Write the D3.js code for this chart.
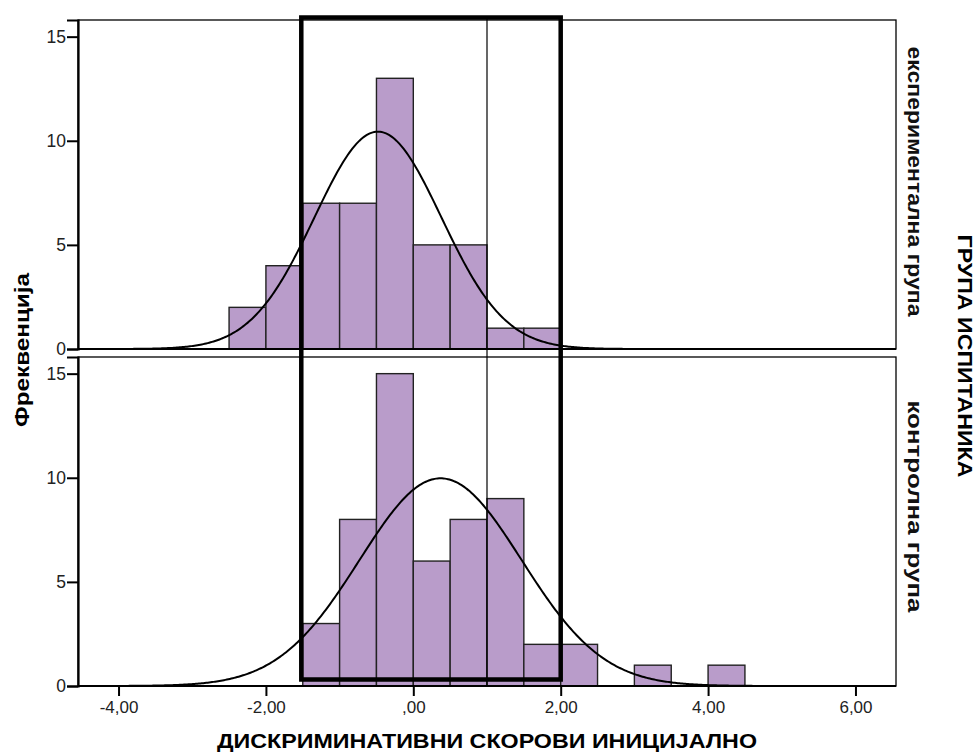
<!DOCTYPE html>
<html>
<head>
<meta charset="utf-8">
<script src="https://cdn.jsdelivr.net/npm/d3@7"></script>
<style>
  body { margin: 0; background: #fff; }
  text { font-family: "Liberation Sans", Arial, sans-serif; }
</style>
</head>
<body>
<div id="chart"></div>
<script>
'use strict';

// Data
const binStarts = [-2.5, -2.0, -1.5, -1.0, -0.5, 0.0, 0.5, 1.0, 1.5, 2.0, 2.5, 3.0, 3.5, 4.0];
const binWidth = 0.5;
const expCounts = [2, 4, 7, 7, 13, 5, 5, 1, 1, 0, 0, 0, 0, 0];
const ctrlCounts = [0, 0, 3, 8, 15, 6, 8, 9, 2, 2, 0, 1, 0, 1];
const groupNames = ['експериментална група', 'контролна група'];
const curveMeans = [-0.48, 0.37];
const curveSds = [0.86, 1.10];
const xTicks = [-4, -2, 0, 2, 4, 6];
const yTicks = [0, 5, 10, 15];

const width = 978, height = 752;
const left = 78, right = 896;
const panels = [{ top: 20, bottom: 349 }, { top: 357, bottom: 686 }];
const labelLengths = [270, 212];
const labelShift = [-3, -15];

const svg = d3.select('#chart').append('svg')
  .attr('width', width)
  .attr('height', height);

const x = d3.scaleLinear().domain([-4.55, 6.55]).range([left, right]);
const fmt = (d) => (d === 0 ? ',00' : d.toFixed(2).replace('.', ','));

const seriesList = [expCounts, ctrlCounts];

panels.forEach((p, i) => {
  const y = d3.scaleLinear().domain([0, 15.8]).range([p.bottom, p.top]);
  const g = svg.append('g');
  const counts = seriesList[i];
  const data = binStarts.map((b, k) => ({ x0: b, n: counts[k] })).filter((d) => d.n > 0);
  const total = d3.sum(counts);

  // frame
  g.append('rect')
    .attr('x', left).attr('y', p.top)
    .attr('width', right - left).attr('height', p.bottom - p.top)
    .attr('fill', 'none').attr('stroke', '#000').attr('stroke-width', 1.3);

  // bars
  g.selectAll('.bar')
    .data(data)
    .enter().append('rect')
      .attr('class', 'bar')
      .attr('x', (d) => x(d.x0))
      .attr('width', (d) => x(d.x0 + binWidth) - x(d.x0))
      .attr('y', (d) => y(d.n))
      .attr('height', (d) => y(0) - y(d.n))
      .attr('fill', '#b99cca')
      .attr('stroke', '#222')
      .attr('stroke-width', 1.4);

  // normal curve
  const mu = curveMeans[i], sd = curveSds[i];
  const pts = d3.range(-4.55, 6.551, 0.02).map((v) => [v,
    total * binWidth / (sd * Math.sqrt(2 * Math.PI)) * Math.exp(-0.5 * ((v - mu) / sd) ** 2)]);
  g.append('path')
    .datum(pts)
    .attr('fill', 'none')
    .attr('stroke', '#000')
    .attr('stroke-width', 2)
    .attr('d', d3.line().x((d) => x(d[0])).y((d) => y(d[1])));

  // y axis
  const ya = g.append('g')
    .attr('transform', 'translate(' + left + ',0)')
    .call(d3.axisLeft(y).tickValues(yTicks).tickSize(11).tickPadding(1).tickFormat(d3.format('d')));
  ya.select('.domain').attr('stroke-width', 2.2);
  ya.selectAll('.tick line').attr('stroke-width', 2);
  ya.selectAll('text').attr('font-size', 17.5).attr('font-family', '"Liberation Sans", Arial, sans-serif').attr('fill', '#222');

  // bottom axis line
  g.append('line')
    .attr('x1', left).attr('x2', right)
    .attr('y1', p.bottom).attr('y2', p.bottom)
    .attr('stroke', '#000').attr('stroke-width', 2.2);

  // group label
  g.append('text')
    .attr('transform', 'translate(908,' + ((p.top + p.bottom) / 2 + labelShift[i]) + ') rotate(90)')
    .attr('text-anchor', 'middle')
    .attr('font-size', 20)
    .attr('font-weight', 'bold')
    .attr('fill', '#111')
    .attr('textLength', labelLengths[i])
    .attr('lengthAdjust', 'spacingAndGlyphs')
    .text(groupNames[i]);
});

// x axis under bottom panel
const xa = svg.append('g')
  .attr('transform', 'translate(0,' + panels[1].bottom + ')')
  .call(d3.axisBottom(x).tickValues(xTicks).tickSize(10).tickPadding(5).tickFormat(fmt));
xa.select('.domain').remove();
xa.selectAll('.tick line').attr('stroke-width', 2);
xa.selectAll('text').attr('font-size', 17).attr('font-family', '"Liberation Sans", Arial, sans-serif').attr('fill', '#222');

// titles
svg.append('text')
  .attr('x', (left + right) / 2).attr('y', 748)
  .attr('text-anchor', 'middle')
  .attr('font-size', 21).attr('font-weight', 'bold')
  .attr('textLength', 540).attr('lengthAdjust', 'spacingAndGlyphs')
  .text('ДИСКРИМИНАТИВНИ СКОРОВИ ИНИЦИЈАЛНО');

svg.append('text')
  .attr('transform', 'translate(29,' + 350 + ') rotate(-90)')
  .attr('text-anchor', 'middle')
  .attr('font-size', 21).attr('font-weight', 'bold')
  .attr('textLength', 154).attr('lengthAdjust', 'spacingAndGlyphs')
  .text('Фреквенција');

svg.append('text')
  .attr('transform', 'translate(958,' + 356 + ') rotate(90)')
  .attr('text-anchor', 'middle')
  .attr('font-size', 21).attr('font-weight', 'bold')
  .attr('textLength', 243).attr('lengthAdjust', 'spacingAndGlyphs')
  .text('ГРУПА ИСПИТАНИКА');

// annotation overlay
svg.append('line')
  .attr('x1', x(1)).attr('x2', x(1))
  .attr('y1', 17).attr('y2', panels[1].bottom)
  .attr('stroke', '#000').attr('stroke-width', 1.2);

svg.append('rect')
  .attr('x', x(-1.52)).attr('y', 17.5)
  .attr('width', x(2.0) - x(-1.52)).attr('height', 679.5 - 17.5)
  .attr('fill', 'none').attr('stroke', '#000').attr('stroke-width', 4.5);
</script>
</body>
</html>
